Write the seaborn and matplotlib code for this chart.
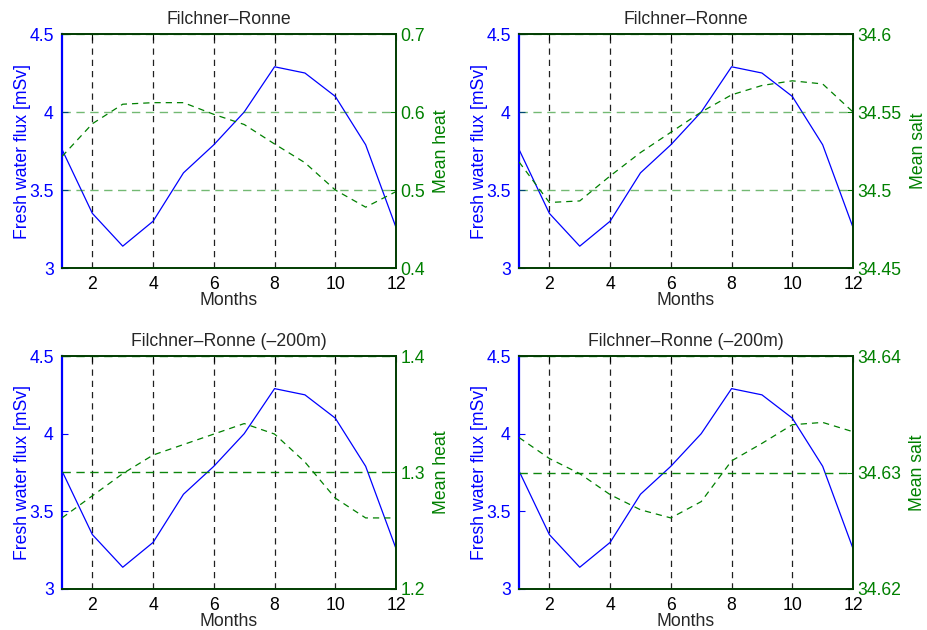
import matplotlib
matplotlib.use("Agg")
import matplotlib.pyplot as plt
import pandas as pd
import seaborn as sns

# Monthly climatology, Filchner-Ronne region
months = list(range(1, 13))
fresh_water_flux = [3.76, 3.35, 3.14, 3.30, 3.61, 3.79, 4.00, 4.29, 4.25, 4.10, 3.79, 3.26]
mean_heat_surface = [0.543, 0.585, 0.610, 0.612, 0.612, 0.597, 0.584, 0.559, 0.535, 0.500, 0.478, 0.498]
mean_salt_surface = [34.518, 34.492, 34.493, 34.509, 34.524, 34.537, 34.550, 34.561, 34.567, 34.570, 34.568, 34.550]
mean_heat_200m = [1.261, 1.280, 1.299, 1.315, 1.324, 1.333, 1.342, 1.333, 1.309, 1.278, 1.261, 1.261]
mean_salt_200m = [34.6330, 34.6312, 34.6299, 34.6281, 34.6268, 34.6261, 34.6275, 34.6310,
                  34.6325, 34.6341, 34.6343, 34.6335]

titles = ["Filchner\u2013Ronne", "Filchner\u2013Ronne",
          "Filchner\u2013Ronne (\u2013200m)", "Filchner\u2013Ronne (\u2013200m)"]
right_labels = ["Mean heat", "Mean salt", "Mean heat", "Mean salt"]
right_series = [mean_heat_surface, mean_salt_surface, mean_heat_200m, mean_salt_200m]
right_limits = [(0.4, 0.7), (34.45, 34.6), (1.2, 1.4), (34.62, 34.64)]
right_ticks = [[0.4, 0.5, 0.6, 0.7], [34.45, 34.5, 34.55, 34.6], [1.2, 1.3, 1.4], [34.62, 34.63, 34.64]]
right_ticklabels = [["0.4", "0.5", "0.6", "0.7"], ["34.45", "34.5", "34.55", "34.6"],
                    ["1.2", "1.3", "1.4"], ["34.62", "34.63", "34.64"]]
left_ticks = [3, 3.5, 4, 4.5]
left_ticklabels = ["3", "3.5", "4", "4.5"]
x_ticks = [2, 4, 6, 8, 10, 12]

sns.set_style("white")
plt.rcParams["font.family"] = ["Liberation Sans", "DejaVu Sans"]

BLUE = "#0000ff"
GREEN = "#008000"
DARKGREEN = "#003c00"
FS = 12.7

fig = plt.figure(figsize=(9.27, 6.3), dpi=100)
positions = [
    [0.0669, 0.5746, 0.3603, 0.3714],
    [0.5599, 0.5746, 0.3603, 0.3714],
    [0.0669, 0.0651, 0.3603, 0.3698],
    [0.5599, 0.0651, 0.3603, 0.3698],
]
grid_alpha = [0.55, 0.55, 0.95, 0.95]

for i, pos in enumerate(positions):
    ax = fig.add_axes(pos)
    df = pd.DataFrame({"month": months, "flux": fresh_water_flux, "right": right_series[i]})

    sns.lineplot(data=df, x="month", y="flux", ax=ax, color=BLUE, linewidth=0.9)
    ax.set_xlim(1, 12)
    ax.set_ylim(3, 4.5)
    ax.set_xticks(x_ticks)
    ax.set_xticklabels([str(t) for t in x_ticks], fontsize=FS, color="black")
    ax.set_yticks(left_ticks)
    ax.set_yticklabels(left_ticklabels, fontsize=FS)
    ax.tick_params(axis="y", colors=BLUE, direction="in", length=4, width=0.8, right=True, pad=6)
    ax.tick_params(axis="x", colors="black", direction="in", length=4, width=0.8, top=True, pad=6)
    ax.set_xlabel("Months", fontsize=FS, labelpad=-1)
    ax.set_ylabel("Fresh water flux [mSv]", fontsize=FS, color=BLUE, labelpad=-1)
    ax.set_title(titles[i], fontsize=FS, pad=7)
    ax.xaxis.grid(True, color="#202020", linestyle=(0, (5, 4)), linewidth=0.9)
    ax.yaxis.grid(False)
    for side in ("top", "right", "bottom"):
        ax.spines[side].set_visible(False)
    ax.spines["left"].set_color(BLUE)
    ax.spines["left"].set_linewidth(1.6)

    ax2 = ax.twinx()
    sns.lineplot(data=df, x="month", y="right", ax=ax2, color=GREEN, linewidth=0.9,
                 linestyle=(0, (5, 4)))
    ax2.set_xlim(1, 12)
    ax2.set_ylim(*right_limits[i])
    ax2.set_yticks(right_ticks[i])
    ax2.set_yticklabels(right_ticklabels[i], fontsize=FS)
    ax2.tick_params(axis="y", colors=GREEN, direction="in", length=4, width=0.8, pad=3)
    ax2.set_ylabel(right_labels[i], fontsize=FS, color=GREEN, labelpad=6)
    ax2.set_xlabel("")
    ax2.yaxis.grid(True, color=GREEN, alpha=grid_alpha[i], linestyle=(0, (6, 4)), linewidth=1.0)
    ax2.spines["left"].set_visible(False)
    for side in ("top", "bottom", "right"):
        ax2.spines[side].set_visible(True)
        ax2.spines[side].set_color(DARKGREEN)
        ax2.spines[side].set_linewidth(1.4)

fig.savefig("out.png", dpi=100)
